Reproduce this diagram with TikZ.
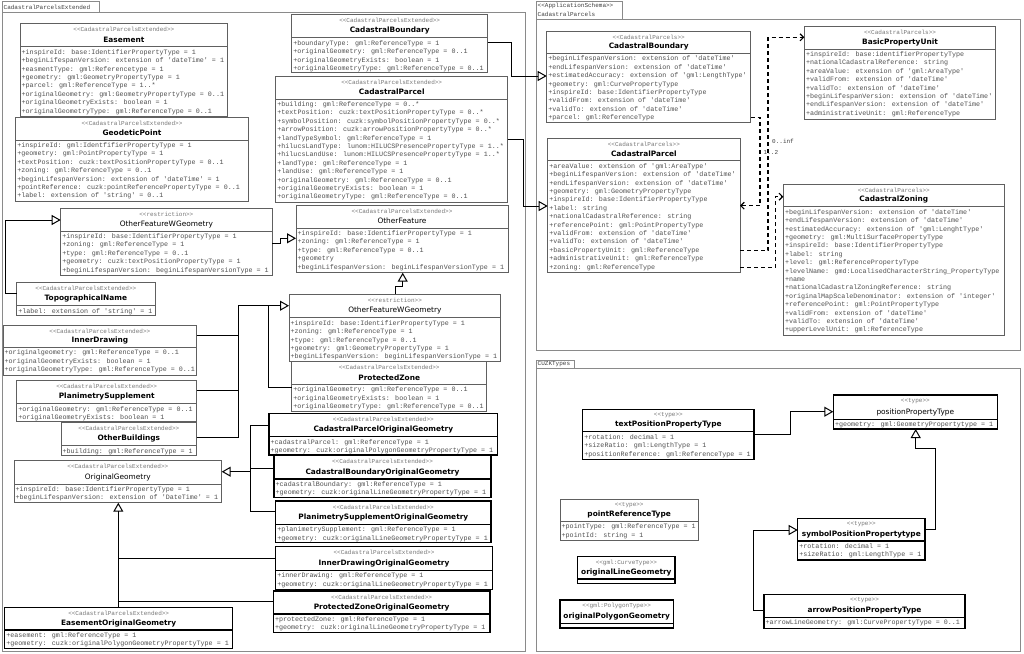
\documentclass[tikz,border=0pt]{standalone}
\usepackage{fontspec}
\usetikzlibrary{arrows.meta}
\newfontfamily\monof{Liberation Mono}
\newfontfamily\sansf{DejaVu Sans}
\definecolor{attrgray}{HTML}{505050}
\definecolor{stgray}{HTML}{777777}
\definecolor{boxgray}{HTML}{606060}
\definecolor{pkggray}{HTML}{8A8A8A}
\tikzset{
 thinbox/.style={draw=boxgray, line width=0.8pt},
 thickbox/.style={draw=black, line width=1.3pt},
 stereo/.style={font=\monof\fontsize{6}{7}\selectfont, text=stgray, inner sep=0pt},
 ttl/.style={font=\sansf\fontsize{7.4}{8}\selectfont, inner sep=0pt},
 attr/.style={font=\monof\fontsize{6.7}{8.4}\selectfont, text=attrgray, inner sep=0pt, anchor=north west},
 gen/.style={draw=black, line width=1pt, -{Triangle[open, length=9pt, width=10pt]}},
 conn/.style={draw=black, line width=1pt},
 assoc/.style={draw=black, line width=1.1pt, dash pattern=on 4pt off 3pt, -{Straight Barb[length=3.5pt, width=7pt]}},
 pkg/.style={draw=pkggray, line width=0.8pt, inner sep=0pt, outer sep=0pt, anchor=north west},
 pkgtext/.style={font=\monof\fontsize{6}{7.2}\selectfont, text=black!75, inner sep=0pt, anchor=west},
 mult/.style={font=\monof\fontsize{6}{7}\selectfont, text=black!75, inner sep=0pt, anchor=west},
}
\newcommand\umlbox[9]{%
  \node[#2, rectangle, inner sep=0pt, outer sep=0pt, anchor=north west, minimum width={#5pt-#3pt}, minimum height={#7pt-#4pt}] (#1) at (#3,#4) {};
  \draw[#2] (#3,#6) -- (#5,#6);
  \node[stereo] (#1-st) at ({(#3+#5)/2},{#4+6}) {#8};
  \node[ttl] (#1-nm) at ({(#3+#5)/2},{#6-7}) {#9};
}
\newcommand\umlattrs[4]{%
  \node[attr] (#1-at) at ({#2+1.5},{#3+1.5}) {\begin{tabular}{@{}l@{}}#4\end{tabular}};
}
\begin{document}
\begin{tikzpicture}[x=1pt,y=-1pt]
\useasboundingbox (0,0) rectangle (1024,653);
\fill[white] (0,0) rectangle (1024,653);
% packages
\node[pkg, minimum width=97pt, minimum height=11pt] (pkgLtab) at (2,1.5) {};
\node[pkgtext] (pkgLname) at (3.5,7) {CadastralParcelsExtended};
\node[pkg, minimum width=523pt, minimum height=639pt] (pkgL) at (2,12.5) {};
\node[pkg, minimum width=86.5pt, minimum height=18pt] (pkgRtab) at (536,1) {};
\node[pkgtext] (pkgRst) at (537.5,5.8) {<<ApplicationSchema>>};
\node[pkgtext] (pkgRname) at (537.5,14.6) {CadastralParcels};
\node[pkg, minimum width=484pt, minimum height=331.7pt] (pkgR) at (536,19) {};
\node[pkg, minimum width=38.3pt, minimum height=8pt] (pkgCtab) at (536,360.5) {};
\node[pkgtext] (pkgCname) at (537.5,364.6) {CUZKTypes};
\node[pkg, minimum width=484pt, minimum height=283pt] (pkgC) at (536,368.5) {};

% ---- left package boxes
\umlbox{easement}{thinbox}{20}{23.3}{227.7}{46.7}{116.7}{<<CadastralParcelsExtended>>}{\bfseries Easement}
\umlattrs{easement}{20}{46.7}{+inspireId: base:IdentifierPropertyType = 1\\+beginLifespanVersion: extension of 'dateTime' = 1\\+easmentType: gml:Referencetype = 1\\+geometry: gml:GeometryPropertyType = 1\\+parcel: gml:ReferenceType = 1..*\\+originalGeometry: gml:GeometryPropertyType = 0..1\\+originalGeometryExists: boolean = 1\\+originalGeometryType: gml:ReferenceType = 0..1}

\umlbox{geo}{thinbox}{15.7}{117.3}{248.3}{140}{201.7}{<<CadastralParcelsExtended>>}{\bfseries GeodeticPoint}
\umlattrs{geo}{15.7}{140}{+inspireId: gml:IdentfifierPropertyType = 1\\+geometry: gml:PointPropertyType = 1\\+textPosition: cuzk:textPositionPropertyType = 0..1\\+zoning: gml:ReferenceType = 0..1\\+beginLifespanVersion: extension of 'dateTime' = 1\\+pointReference: cuzk:pointReferencePropertyType = 0..1\\+label: extension of 'string' = 0..1}

\umlbox{cbL}{thinbox}{291.7}{14}{487.7}{37.7}{72.3}{<<CadastralParcelsExtended>>}{\bfseries CadastralBoundary}
\umlattrs{cbL}{291.7}{37.7}{+boundaryType: gml:ReferenceType = 1\\+originalGeometry: gml:ReferenceType = 0..1\\+originalGeometryExists: boolean = 1\\+originalGeometryType: gml:ReferenceType = 0..1}

\umlbox{cpL}{thinbox}{275.7}{76}{507.7}{99}{202.3}{<<CadastralParcelsExtended>>}{\bfseries CadastralParcel}
\umlattrs{cpL}{275.7}{99}{+building: gml:ReferenceType = 0..*\\+textPosition: cuzk:textPositionPropertyType = 0..*\\+symbolPosition: cuzk:symbolPositionPropertyType = 0..*\\+arrowPosition: cuzk:arrowPositionPropertyType = 0..*\\+landTypeSymbol: gml:ReferenceType = 1\\+hilucsLandType: lunom:HILUCSPresencePropertyType = 1..*\\+hilucsLandUse: lunom:HILUCSPresencePropertyType = 1..*\\+landType: gml:ReferenceType = 1\\+landUse: gml:ReferenceType = 1\\+originalGeometry: gml:ReferenceType = 0..1\\+originalGeometryExists: boolean = 1\\+originalGeometryType: gml:ReferenceType = 0..1}

\umlbox{ofwg1}{thinbox}{60.7}{208.3}{272}{231}{275}{<<restriction>>}{OtherFeatureWGeometry}
\umlattrs{ofwg1}{60.7}{231}{+inspireId: base:IdentifierPropertyType = 1\\+zoning: gml:ReferenceType = 1\\+type: gml:ReferenceType = 0..1\\+geometry: cuzk:textPositionPropertyType = 1\\+beginLifespanVersion: beginLifespanVersionType = 1}

\umlbox{of}{thinbox}{296}{205.3}{508}{228}{272.7}{<<CadastralParcelsExtended>>}{OtherFeature}
\umlattrs{of}{296}{228}{+inspireId: base:IdentifierPropertyType = 1\\+zoning: gml:ReferenceType = 1\\+type: gml:ReferenceType = 0..1\\+geometry\\+beginLifespanVersion: beginLifespanVersionType = 1}

\umlbox{topo}{thinbox}{16.7}{282.7}{155}{305.5}{315}{<<CadastralParcelsExtended>>}{\bfseries TopographicalName}
\umlattrs{topo}{16.7}{305.5}{+label: extension of 'string' = 1}

\umlbox{ofwg2}{thinbox}{289}{294.3}{500.7}{317.7}{361}{<<restriction>>}{OtherFeatureWGeometry}
\umlattrs{ofwg2}{289}{317.7}{+inspireId: base:IdentifierPropertyType = 1\\+zoning: gml:ReferenceType = 1\\+type: gml:ReferenceType = 0..1\\+geometry: gml:GeometryPropertyType = 1\\+beginLifespanVersion: beginLifespanVersionType = 1}

\umlbox{pz}{thinbox}{291.7}{361.7}{486.7}{384.3}{411.7}{<<CadastralParcelsExtended>>}{\bfseries ProtectedZone}
\umlattrs{pz}{291.7}{384.3}{+originalGeometry: gml:ReferenceType = 0..1\\+originalGeometryExists: boolean = 1\\+originalGeometryType: gml:ReferenceType = 0..1}

\umlbox{inner}{thinbox}{3}{325}{196.7}{347.3}{375}{<<CadastralParcelsExtended>>}{\bfseries InnerDrawing}
\umlattrs{inner}{3}{347.3}{+originalgeometry: gml:ReferenceType = 0..1\\+originalGeometryExists: boolean = 1\\+originalGeometryType: gml:ReferenceType = 0..1}

\umlbox{plan}{thinbox}{16.7}{380}{196.7}{403.7}{421.7}{<<CadastralParcelsExtended>>}{\bfseries PlanimetrySupplement}
\umlattrs{plan}{16.7}{403.7}{+originalGeometry: gml:ReferenceType = 0..1\\+originalGeometryExists: boolean = 1}

\umlbox{ob}{thinbox}{61}{422.3}{196.7}{445.7}{455}{<<CadastralParcelsExtended>>}{\bfseries OtherBuildings}
\umlattrs{ob}{61}{445.7}{+building: gml:ReferenceType = 1}

\umlbox{og}{thinbox}{14}{460.7}{221.7}{484}{502.7}{<<CadastralParcelsExtended>>}{OriginalGeometry}
\umlattrs{og}{14}{484}{+inspireId: base:IdentifierPropertyType = 1\\+beginLifespanVersion: extension of 'DateTime' = 1}

\umlbox{eog}{thickbox}{4.7}{607.3}{232.7}{630}{648.3}{<<CadastralParcelsExtended>>}{\bfseries EasementOriginalGeometry}
\umlattrs{eog}{4.7}{630}{+easement: gml:ReferenceType = 1\\+geometry: cuzk:originalPolygonGeometryPropertyType = 1}

\umlbox{cpog}{thickbox}{269}{413.3}{497.7}{436.7}{455}{<<CadastralParcelsExtended>>}{\bfseries CadastralParcelOriginalGeometry}
\umlattrs{cpog}{269}{436.7}{+cadastralParcel: gml:ReferenceType = 1\\+geometry: cuzk:originalPolygonGeometryPropertyType = 1}

\umlbox{cbog}{thickbox}{274}{455}{491}{479}{497.7}{<<CadastralParcelsExtended>>}{\bfseries CadastralBoundaryOriginalGeometry}
\umlattrs{cbog}{274}{479}{+cadastralBoundary: gml:ReferenceType = 1\\+geometry: cuzk:originalLineGeometryPropertyType = 1}

\umlbox{psog}{thickbox}{275.7}{501}{491}{524.3}{542.7}{<<CadastralParcelsExtended>>}{\bfseries PlanimetrySupplementOriginalGeometry}
\umlattrs{psog}{275.7}{524.3}{+planimetrySupplement: gml:ReferenceType = 1\\+geometry: cuzk:originalLineGeometryPropertyType = 1}

\umlbox{idog}{thickbox}{275.7}{546.7}{492.3}{570.3}{589.3}{<<CadastralParcelsExtended>>}{\bfseries InnerDrawingOriginalGeometry}
\umlattrs{idog}{275.7}{570.3}{+innerDrawing: gml:ReferenceType = 1\\+geometry: cuzk:originalLineGeometryPropertyType = 1}

\umlbox{pzog}{thickbox}{273.3}{591}{490}{614}{632.7}{<<CadastralParcelsExtended>>}{\bfseries ProtectedZoneOriginalGeometry}
\umlattrs{pzog}{273.3}{614}{+protectedZone: gml:ReferenceType = 1\\+geometry: cuzk:originalLineGeometryPropertyType = 1}

% ---- right package boxes
\umlbox{cbR}{thinbox}{546.7}{31}{750.7}{53.3}{122.7}{<<CadastralParcels>>}{\bfseries CadastralBoundary}
\umlattrs{cbR}{546.7}{53.3}{+beginLifespanVersion: extension of 'dateTime'\\+endLifespanVersion: extension of 'dateTime'\\+estimatedAccuracy: extension of 'gml:LengthType'\\+geometry: gml:CurvePropertyType\\+inspireId: base:IdentifierPropertyType\\+validFrom: extension of 'dateTime'\\+validTo: extension of 'dateTime'\\+parcel: gml:ReferenceType}

\umlbox{cpR}{thinbox}{547.7}{138.3}{740}{160.7}{272.7}{<<CadastralParcels>>}{\bfseries CadastralParcel}
\umlattrs{cpR}{547.7}{160.7}{+areaValue: extension of 'gml:AreaType'\\+beginLifespanVersion: extension of 'dateTime'\\+endLifespanVersion: extension of 'dateTime'\\+geometry: gml:GeometryPropertyType\\+inspireId: base:IdentifierPropertyType\\+label: string\\+nationalCadastralReference: string\\+referencePoint: gml:PointPropertyType\\+validFrom: extension of 'dateTime'\\+validTo: extension of 'dateTime'\\+basicPropertyUnit: gml:ReferenceType\\+administrativeUnit: gml:ReferenceType\\+zoning: gml:ReferenceType}

\umlbox{bpu}{thinbox}{804.3}{26}{995.7}{49}{119}{<<CadastralParcels>>}{\bfseries BasicPropertyUnit}
\umlattrs{bpu}{804.3}{49}{+inspireId: base:identifierPropertyType\\+nationalCadastralReference: string\\+areaValue: etxension of 'gml:AreaType'\\+validFrom: extension of 'dateTime'\\+validTo: extension of 'dateTime'\\+beginLifespanVersion: extension of 'dateTime'\\+endLifespanVersion: extension of 'dateTime'\\+administrativeUnit: gml:ReferenceType}

\umlbox{cz}{thinbox}{783.3}{184}{1004.3}{206.7}{335.7}{<<CadastralParcels>>}{\bfseries CadastralZoning}
\umlattrs{cz}{783.3}{206.7}{+beginLifespanVersion: extension of 'dateTime'\\+endLifespanVersion: extension of 'dateTime'\\+estimatedAccuracy: extension of 'gml:LenghtType'\\+geometry: gml:MultiSurfacePropertyType\\+inspireId: base:IdentifierPropertyType\\+label: string\\+level: gml:ReferencePropertyType\\+levelName: gmd:LocalisedCharacterString\_PropertyType\\+name\\+nationalCadastralZoningReference: string\\+originalMapScaleDenominator: extension of 'integer'\\+referencePoint: gml:PointPropertyType\\+validFrom: extension of 'dateTime'\\+validTo: extension of 'dateTime'\\+upperLevelUnit: gml:ReferenceType}

% ---- CUZK types
\umlbox{tpp}{thickbox}{582.7}{409.3}{754}{431.7}{459.3}{<<type>>}{\bfseries textPositionPropertyType}
\umlattrs{tpp}{582.7}{431.7}{+rotation: decimal = 1\\+sizeRatio: gml:LengthType = 1\\+positionReference: gml:ReferenceType = 1}

\umlbox{prt}{thinbox}{560}{499}{698.3}{521.3}{540.7}{<<type>>}{\bfseries pointReferenceType}
\umlattrs{prt}{560}{521.3}{+pointType: gml:ReferenceType = 1\\+pointId: string = 1}

\umlbox{olg}{thickbox}{577.7}{556.7}{675}{579}{583.5}{<<gml:CurveType>>}{\bfseries originalLineGeometry}
\umlbox{opg}{thickbox}{560}{600}{673.3}{623.3}{628}{<<gml:PolygonType>>}{\bfseries originalPolygonGeometry}

\umlbox{ppt}{thickbox}{833.3}{395}{997.3}{419.3}{429}{<<type>>}{positionPropertyType}
\umlattrs{ppt}{833.3}{419.3}{+geometry: gml:GeometryPropertytype = 1}

\umlbox{spp}{thickbox}{797.7}{518.3}{925}{541}{560}{<<type>>}{\bfseries symbolPositionPropertytype}
\umlattrs{spp}{797.7}{541}{+rotation: decimal = 1\\+sizeRatio: gml:LengthType = 1}

\umlbox{app}{thickbox}{764}{594.3}{965}{617.3}{628.3}{<<type>>}{\bfseries arrowPositionPropertyType}
\umlattrs{app}{764}{617.3}{+arrowLineGeometry: gml:CurvePropertyType = 0..1}

% ---- connectors
\draw[gen] ([yshift=-28.3pt]cbL.north east) -- ++(23.5,0) |- ([yshift=-45pt]cbR.north west);
\draw[gen] ([yshift=-63.3pt]cpL.north east) -- ++(15.5,0) |- ([yshift=-67.7pt]cpR.north west);
\draw[gen] ([yshift=-11pt]topo.north west) -- ++(-11,0) |- ([yshift=-11.7pt]ofwg1.north west);
\draw[gen] ([yshift=-35pt]ofwg1.north east) -- ++(8,0) |- ([yshift=-33pt]of.north west);
\draw[gen] ([xshift=106pt]ofwg2.north west) -- ++(0,-7.6) -| ([xshift=106.7pt]of.south west);
\draw[gen] ([yshift=-10.7pt]inner.north east) -- ++(41.3,0) |- ([yshift=-11.4pt]ofwg2.north west);
\draw[conn] ([yshift=-10.7pt]plan.north east) -- ++(41.3,0) -- ++(0,-85);
\draw[conn] ([yshift=-15pt]ob.north east) -- ++(41.3,0) -- ++(0,-131.6);
\draw[conn] ([yshift=-26pt]pz.north west) -- ++(-23.4,0) -- ++(0,-82);
\draw[gen] ([yshift=-11.7pt]cpog.north west) -- ++(-19,0) |- ([yshift=-11pt]og.north east);
\draw[conn] ([yshift=-13.3pt]cbog.north west) -- ++(-24,0);
\draw[conn] ([yshift=-10.7pt]psog.north west) -- ++(-25.7,0) -- ++(0,-86.7);
\draw[gen] ([xshift=113.6pt]eog.north west) -- ([xshift=104.3pt]og.south west);
\draw[conn] ([yshift=-11.6pt]idog.north west) -- ++(-157.4,0);
\draw[conn] ([yshift=-10.7pt]pzog.north west) -- ++(-155,0);

\draw[assoc] ([yshift=-112.4pt]cpR.north east) -- ++(28,0) |- ([yshift=-11.3pt]bpu.north west);
\draw[assoc] ([yshift=-129.4pt]cpR.north east) -- ++(35.5,0) |- ([yshift=-12.7pt]cz.north west);
\draw[assoc] ([yshift=-86.3pt]cbR.north east) -- ++(9.3,0) |- ([yshift=-67.4pt]cpR.north east);
\node[mult] (m1) at (772,141) {0..inf};
\node[mult] (m2) at (763.5,152) {1..2};

\draw[gen] ([yshift=-24.7pt]tpp.north east) -- ++(36,0) |- ([yshift=-16.7pt]ppt.north west);
\draw[gen] ([yshift=-11pt]spp.north east) -- ++(10.7,0) -- ++(0,-81) -| ([xshift=82.4pt]ppt.south west);
\draw[gen] ([yshift=-16.4pt]app.north west) -- ++(-10.7,0) |- ([yshift=-11.7pt]spp.north west);
\end{tikzpicture}
\end{document}
